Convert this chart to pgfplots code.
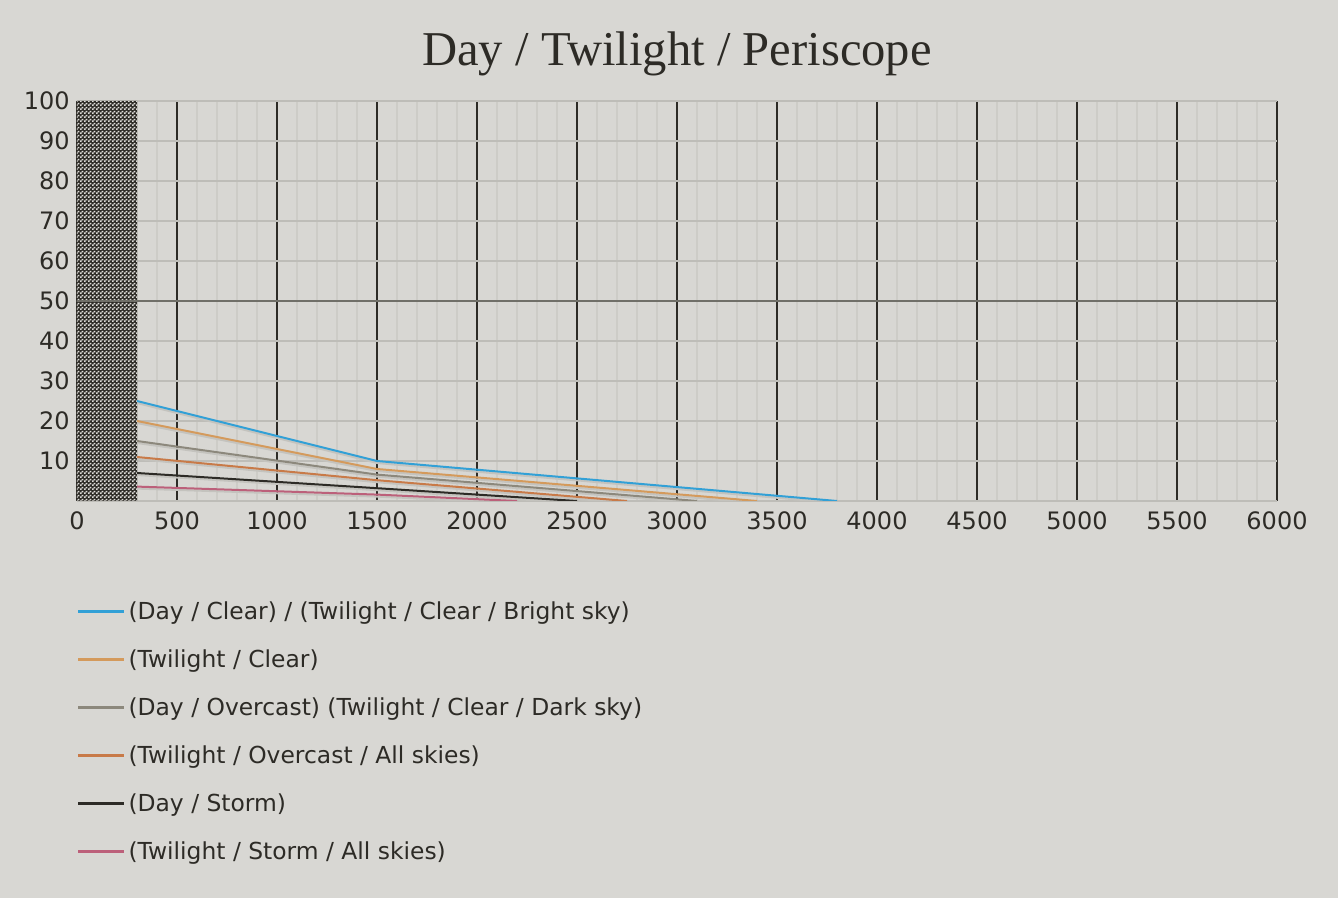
\documentclass[border=0pt]{standalone}
\usepackage{fontspec}
\setmainfont{DejaVu Sans}
\newfontfamily\titlefont{Liberation Serif}
\usepackage{pgfplots}
\pgfplotsset{compat=1.18}
\usetikzlibrary{patterns.meta}
\definecolor{bg}{RGB}{216,215,211}
\definecolor{ink}{RGB}{45,43,38}
\definecolor{lightsq}{RGB}{222,221,217}
\definecolor{cblue}{RGB}{50,160,214}
\definecolor{corange}{RGB}{212,154,92}
\definecolor{cgray}{RGB}{140,136,124}
\definecolor{corange2}{RGB}{200,122,72}
\definecolor{cblack}{RGB}{45,43,38}
\definecolor{cpink}{RGB}{188,96,122}
\definecolor{gridminor}{RGB}{205,204,199}
\definecolor{gridy}{RGB}{190,189,184}
\definecolor{fifty}{RGB}{112,111,104}
\definecolor{shadow}{RGB}{196,195,190}
\pgfdeclarepattern{
  name=finecheck,
  type=uncolored,
  bottom left={\pgfpointorigin},
  top right={\pgfqpoint{2pt}{2pt}},
  tile size={\pgfqpoint{2pt}{2pt}},
  code={%
    \pgfpathrectangle{\pgfpointorigin}{\pgfqpoint{1pt}{1pt}}%
    \pgfpathrectangle{\pgfqpoint{1pt}{1pt}}{\pgfqpoint{1pt}{1pt}}%
    \pgfusepath{fill}%
  }
}
\pgfplotstableread{
x y
300 25
1500 10
3800 0
}\tblue
\pgfplotstableread{
x y
300 20
1500 8
3400 0
}\torange
\pgfplotstableread{
x y
300 15
1500 6.6
3100 0
}\tgray
\pgfplotstableread{
x y
300 11
1500 5.2
2750 0
}\torangeb
\pgfplotstableread{
x y
300 7
1500 3.2
2500 0
}\tblack
\pgfplotstableread{
x y
300 3.6
1500 1.6
2200 0
}\tpink
\begin{document}
\begin{tikzpicture}
\fill[bg] (-38.5pt,-198.5pt) rectangle (630.5pt,250.5pt);
\begin{axis}[
  at={(0pt,0pt)}, anchor=south west,
  scale only axis, width=600pt, height=200pt,
  xmin=0, xmax=6000, ymin=0, ymax=100,
  axis line style={draw=none},
  xtick={0,500,...,6000},
  minor x tick num=4,
  ytick={0,10,...,100},
  yticklabels={,10,20,30,40,50,60,70,80,90,100},
  major tick length=0pt, minor tick length=0pt,
  scaled x ticks=false,
  xticklabel style={/pgf/number format/1000 sep={}, anchor=center, yshift=-10pt, font=\fontsize{12}{14}\selectfont, text=ink},
  yticklabel style={anchor=east, inner sep=0pt, xshift=-3.5pt, font=\fontsize{12}{14}\selectfont, text=ink},
  /pgf/number format/assume math mode=true,
  xmajorgrids, xminorgrids, ymajorgrids,
  major x grid style={draw=ink, line width=1pt},
  minor x grid style={draw=gridminor, line width=0.6pt},
  major y grid style={draw=gridy, line width=0.8pt},
  title={Day / Twilight / Periscope},
  title style={at={(rel axis cs:0.5,1)}, anchor=center, yshift=17.5pt, font=\titlefont\fontsize{24.3}{28}\selectfont, text=ink},
  legend style={at={(rel axis cs:0,0)}, anchor=north west, yshift=-51.25pt, draw=none, fill=none,
    inner sep=0pt, outer sep=0pt, row sep=13.5pt,
    nodes={inner sep=0pt, text height=8pt, text depth=2.5pt, font=\fontsize{11.7}{13}\selectfont, text=ink}},
  legend cell align=left,
  legend image code/.code={\draw[#1, line width=1.5pt] (0pt,1.5pt) -- (23pt,1.5pt); \path (24.5pt,0pt);},
]
\addplot[draw=none, fill=ink, forget plot] coordinates {(0,0) (0,100) (300,100) (300,0)} \closedcycle;
\addplot[draw=none, pattern={finecheck}, pattern color=lightsq, forget plot] coordinates {(0,0) (0,100) (300,100) (300,0)} \closedcycle;
\addplot[fifty, line width=1pt, forget plot] coordinates {(0,50) (6000,50)};
\addplot[shadow, line width=1pt, yshift=-1pt, forget plot] table {\tblue};
\addplot[shadow, line width=1pt, yshift=-1pt, forget plot] table {\torange};
\addplot[shadow, line width=1pt, yshift=-1pt, forget plot] table {\tgray};
\addplot[shadow, line width=1pt, yshift=-1pt, forget plot] table {\torangeb};
\addplot[shadow, line width=1pt, yshift=-1pt, forget plot] table {\tblack};
\addplot[shadow, line width=1pt, yshift=-1pt, forget plot] table {\tpink};
\addplot[cblue, line width=1pt] table {\tblue};
\addplot[corange, line width=1pt] table {\torange};
\addplot[cgray, line width=1pt] table {\tgray};
\addplot[corange2, line width=1pt] table {\torangeb};
\addplot[cblack, line width=1pt] table {\tblack};
\addplot[cpink, line width=1pt] table {\tpink};
\legend{(Day / Clear) / (Twilight / Clear / Bright sky), (Twilight / Clear), (Day / Overcast) (Twilight / Clear / Dark sky), (Twilight / Overcast / All skies), (Day / Storm), (Twilight / Storm / All skies)}
\end{axis}
\end{tikzpicture}
\end{document}
